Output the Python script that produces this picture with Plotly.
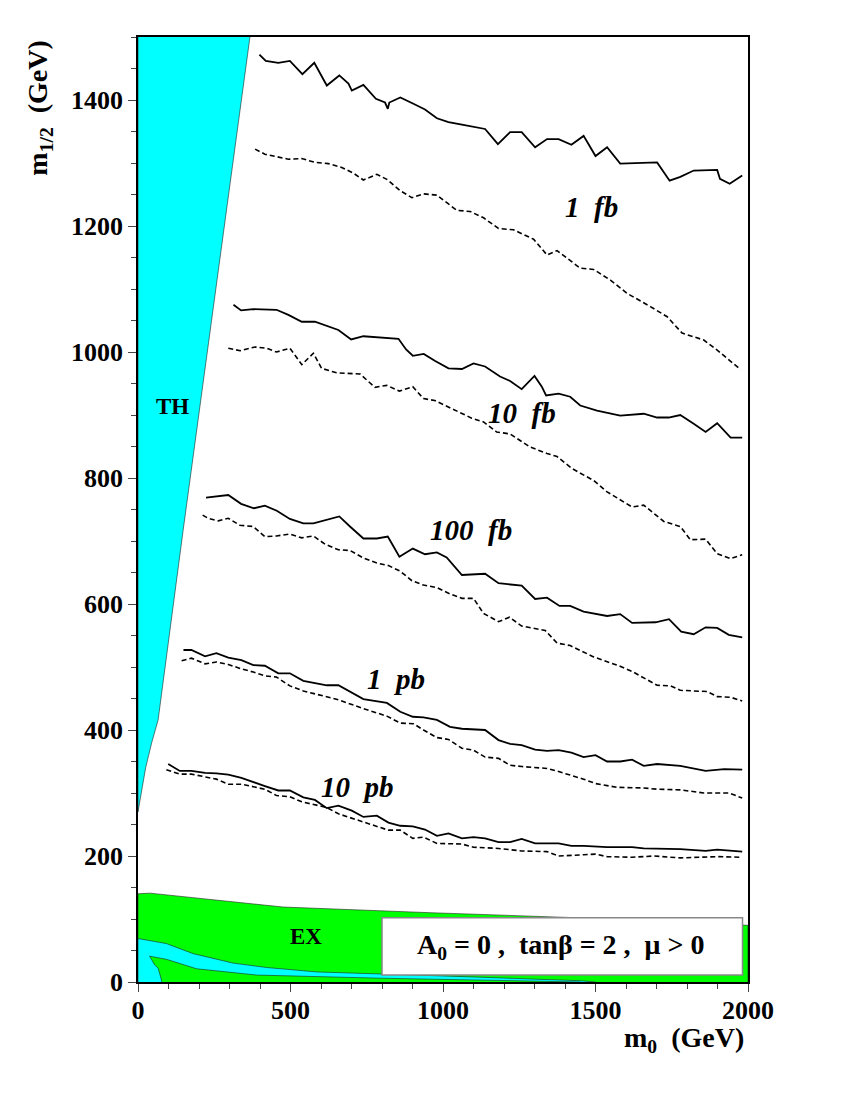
import plotly.graph_objects as go

# ---------------- data ----------------
fb1_solid_m0 = [398,419,460,498,539,578,619,660,690,701,739,780,810,819,824,860,903,941,980,1018,1062,1138,1180,1220,1258,1302,1341,1379,1421,1461,1500,1538,1581,1702,1743,1778,1822,1899,1908,1940,1981]
fb1_solid_m12 = [1472,1462,1459,1462,1441,1459,1423,1439,1426,1415,1424,1402,1396,1386,1396,1404,1394,1385,1371,1365,1361,1354,1330,1349,1349,1325,1338,1338,1329,1343,1311,1325,1299,1301,1272,1278,1288,1289,1275,1267,1280]
fb1_dash_m0 = [384,416,455,493,537,580,624,668,706,739,783,816,860,898,936,980,1045,1089,1133,1182,1231,1297,1341,1374,1450,1494,1549,1604,1680,1735,1784,1855,1899,1976]
fb1_dash_m12 = [1322,1314,1310,1306,1307,1301,1299,1293,1284,1273,1282,1274,1256,1245,1251,1249,1225,1223,1213,1196,1194,1179,1154,1161,1133,1131,1114,1093,1072,1056,1030,1019,1003,972]

fb10_solid_m0 = [313,338,378,454,493,537,580,657,699,739,854,879,901,937,973,1018,1062,1100,1138,1187,1220,1258,1300,1324,1338,1379,1417,1450,1505,1581,1658,1702,1740,1778,1822,1861,1899,1943,1981]
fb10_solid_m12 = [1075,1066,1068,1067,1059,1048,1048,1035,1020,1025,1021,1004,994,997,986,974,973,982,977,961,954,941,962,945,931,934,929,915,907,899,902,896,896,900,886,873,887,864,864]
fb10_dash_m0 = [296,335,384,422,454,498,537,575,602,651,728,777,816,857,901,936,973,1050,1094,1133,1176,1220,1286,1341,1374,1423,1494,1538,1581,1620,1658,1724,1778,1811,1861,1899,1943,1981]
fb10_dash_m12 = [1006,1002,1008,1006,1000,1006,980,998,974,967,965,944,947,938,945,926,923,905,895,889,873,870,849,839,834,815,796,778,765,754,757,731,723,702,703,680,672,678]

fb100_solid_m0 = [223,296,338,380,416,455,498,542,575,660,695,739,783,819,857,901,941,980,1012,1062,1138,1182,1258,1302,1341,1382,1417,1461,1538,1581,1620,1697,1741,1781,1822,1861,1899,1937,1981]
fb100_solid_m12 = [769,773,759,752,756,748,735,728,728,739,723,704,704,707,675,688,679,682,674,646,648,633,629,608,610,597,597,588,581,584,570,571,576,556,552,563,562,551,547]
fb100_dash_m0 = [212,230,263,296,334,378,416,454,498,537,575,613,657,695,739,783,821,860,898,936,980,1023,1062,1100,1133,1182,1218,1258,1335,1374,1417,1494,1576,1620,1702,1746,1778,1866,1899,1943,1981]
fb100_dash_m12 = [741,736,732,736,725,723,707,708,711,705,708,695,686,685,673,665,661,652,637,630,626,616,609,609,585,572,579,565,558,538,534,516,502,493,471,470,463,461,453,452,446]

pb1_solid_m0 = [149,175,220,257,296,339,378,416,460,498,542,619,657,739,816,860,901,936,980,1023,1062,1138,1182,1220,1258,1302,1341,1379,1421,1461,1500,1538,1581,1620,1658,1702,1778,1861,1922,1981]
pb1_solid_m12 = [527,527,517,522,515,511,503,502,490,490,478,471,471,449,443,429,421,420,416,405,402,400,384,378,376,369,367,368,364,357,360,350,350,353,343,346,343,335,338,337]
pb1_dash_m0 = [143,175,220,257,296,339,378,416,454,498,542,619,657,739,816,860,903,936,980,1018,1062,1100,1138,1182,1220,1258,1341,1379,1461,1500,1571,1658,1702,1778,1855,1937,1981]
pb1_dash_m12 = [510,514,505,508,504,497,492,486,484,470,462,453,448,434,422,411,410,400,388,385,371,368,357,355,344,342,339,334,322,315,309,308,306,305,300,300,292]

pb10_solid_m0 = [99,137,175,220,257,296,339,378,416,460,498,542,580,619,657,701,739,783,821,860,901,941,980,1018,1062,1100,1138,1182,1220,1258,1302,1379,1421,1461,1538,1620,1658,1778,1861,1899,1981]
pb10_solid_m12 = [346,335,335,332,331,329,324,317,311,304,304,293,289,276,280,272,262,264,253,248,247,242,232,236,228,230,228,222,222,227,220,220,216,216,214,214,212,211,208,210,207]
pb10_dash_m0 = [93,137,175,220,257,296,339,378,416,454,498,537,580,619,657,701,739,783,821,860,901,936,980,1062,1100,1182,1258,1341,1379,1461,1500,1538,1620,1691,1778,1899,1981]
pb10_dash_m12 = [337,330,330,325,322,314,314,310,306,296,294,286,281,277,267,260,254,246,241,241,228,230,220,219,214,212,208,207,200,202,203,199,198,200,197,199,198]

# theoretically excluded region (TH)
th_m0 = [0, 0, 25, 45, 66, 148, 367]
th_m12 = [1500, 270, 340, 380, 416, 717, 1500]
# experimentally excluded region (EX): outer green, cyan band, inner green
ex_m0 = [0, 0, 39, 475, 957, 1439, 2000, 2000]
ex_m12 = [0, 140, 141, 119, 110, 102, 90, 0]
cyan_m0 = [0, 0, 93, 181, 312, 422, 586, 799, 1100, 1450, 1500]
cyan_m12 = [0, 69, 61, 45, 30, 23, 16, 13, 8, 2, 0]
inner_m0 = [78, 77, 66, 55, 38, 93, 192, 389, 799, 1200, 1450]
inner_m12 = [0, 3, 22, 27, 41, 36, 21, 11, 6, 2, 0]

# text labels
curve_labels = ["1\u00a0\u00a0fb", "10\u00a0\u00a0fb", "100\u00a0\u00a0fb", "1\u00a0\u00a0pb", "10\u00a0\u00a0pb"]
curve_label_m0 = [1486, 1260, 1092, 846, 720]
curve_label_m12 = [1230, 903, 717, 481, 310]

FONT = "Liberation Serif"

fig = go.Figure()

def region(xs, ys, color):
    fig.add_trace(go.Scatter(x=xs, y=ys, mode="lines", fill="toself", fillcolor=color,
                             line=dict(color="#222222", width=0.6), hoverinfo="skip",
                             showlegend=False))

region(ex_m0, ex_m12, "#00ff00")
region(cyan_m0, cyan_m12, "#00ffff")
region(inner_m0, inner_m12, "#00ff00")
region(th_m0, th_m12, "#00ffff")

curves = [
    (fb1_solid_m0, fb1_solid_m12, "solid"), (fb1_dash_m0, fb1_dash_m12, "dash"),
    (fb10_solid_m0, fb10_solid_m12, "solid"), (fb10_dash_m0, fb10_dash_m12, "dash"),
    (fb100_solid_m0, fb100_solid_m12, "solid"), (fb100_dash_m0, fb100_dash_m12, "dash"),
    (pb1_solid_m0, pb1_solid_m12, "solid"), (pb1_dash_m0, pb1_dash_m12, "dash"),
    (pb10_solid_m0, pb10_solid_m12, "solid"), (pb10_dash_m0, pb10_dash_m12, "dash"),
]
for xs, ys, st in curves:
    fig.add_trace(go.Scatter(x=xs, y=ys, mode="lines", showlegend=False, hoverinfo="skip",
                             line=dict(color="black", width=1.8 if st == "solid" else 1.6,
                                       dash="solid" if st == "solid" else "5px,3px")))

for t, x, y in zip(curve_labels, curve_label_m0, curve_label_m12):
    fig.add_annotation(x=x, y=y, text=t, showarrow=False, xanchor="center", yanchor="middle",
                       font=dict(family=FONT, size=29, color="black", weight="bold", style="italic"))

fig.add_annotation(x=114, y=913, text="TH", showarrow=False, xanchor="center", yanchor="middle",
                   font=dict(family=FONT, size=23, color="black", weight="bold"))
fig.add_annotation(x=551, y=73, text="EX", showarrow=False, xanchor="center", yanchor="middle",
                   font=dict(family=FONT, size=23, color="black", weight="bold"))

# parameter box
fig.add_shape(type="rect", x0=800, x1=1982, y0=11, y1=102, xref="x", yref="y",
              fillcolor="white", line=dict(color="#888888", width=1.5), layer="above")
fig.add_annotation(x=1386, y=57, text="A<sub>0</sub> = 0 ,\u00a0\u00a0tanβ = 2 ,\u00a0\u00a0μ &gt; 0",
                   showarrow=False, xanchor="center", yanchor="middle",
                   font=dict(family=FONT, size=28, color="black", weight="bold"))

# axis titles
fig.add_annotation(xref="paper", yref="paper", x=-0.161, y=0.925, textangle=-90,
                   xanchor="center", yanchor="middle",
                   text="m<sub>1/2</sub>\u00a0\u00a0(GeV)", showarrow=False,
                   font=dict(family=FONT, size=28, color="black", weight="bold"))
fig.add_annotation(xref="paper", yref="paper", x=0.895, y=-0.061,
                   xanchor="center", yanchor="middle",
                   text="m<sub>0</sub>\u00a0\u00a0(GeV)", showarrow=False,
                   font=dict(family=FONT, size=28, color="black", weight="bold"))

axis_common = dict(showgrid=False, zeroline=False, showline=True, linecolor="black",
                   linewidth=1.5, mirror=True, ticks="outside", ticklen=8, tickcolor="#444",
                   tickwidth=1,
                   tickfont=dict(family=FONT, size=26, color="black", weight="bold"))
fig.update_xaxes(range=[0, 2000], dtick=500, tick0=0, ticklabelstandoff=-4,
                 minor=dict(dtick=100, ticks="outside", ticklen=5, tickcolor="#444"),
                 **axis_common)
fig.update_yaxes(range=[0, 1500], dtick=200, tick0=0,
                 minor=dict(dtick=50, ticks="outside", ticklen=5, tickcolor="#444"),
                 **axis_common)

# the page body adds an 8px offset, so margins are reduced by 8 on the left/top
fig.update_layout(width=850, height=1100, plot_bgcolor="white", paper_bgcolor="white",
                  margin=dict(l=130, r=110, t=29, b=126), showlegend=False)

fig.write_html("out.html")
